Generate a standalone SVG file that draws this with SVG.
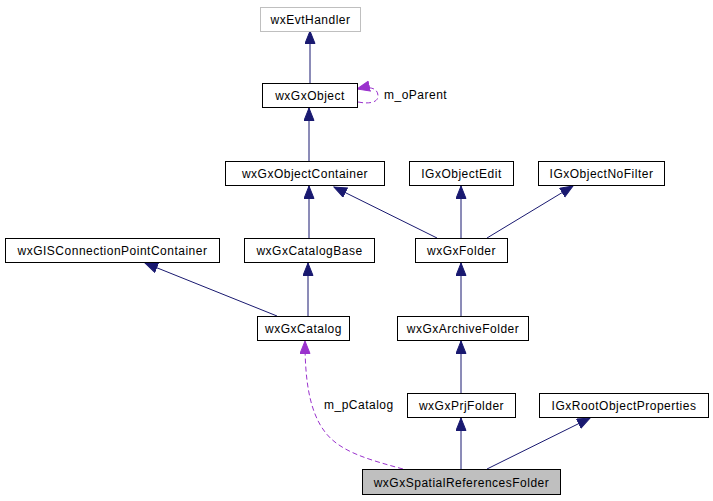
<svg xmlns="http://www.w3.org/2000/svg" width="713" height="501" viewBox="0 0 713 501">
<defs>
<style>
.n rect{fill:#ffffff;stroke:#000000;stroke-width:1}
.n text{font-family:"Liberation Sans",Arial,sans-serif;font-size:12px;letter-spacing:0.5px;fill:#000000;text-anchor:middle}
.g rect{stroke:#bfbfbf}
.h rect{fill:#bfbfbf}
.e{fill:none;stroke:#191970;stroke-width:1}
.u{fill:none;stroke:#9a32cd;stroke-width:1;stroke-dasharray:5,3}
.lbl{font-family:"Liberation Sans",Arial,sans-serif;font-size:12px;letter-spacing:0.5px;fill:#000000}
</style>
<marker id="an" markerWidth="14" markerHeight="12" refX="13" refY="5.5" orient="auto" markerUnits="userSpaceOnUse">
<path d="M0.5,0.5 L13,5.5 L0.5,10.5 z" fill="#191970" stroke="#191970"/>
</marker>
<marker id="ap" markerWidth="14" markerHeight="12" refX="13" refY="5.5" orient="auto" markerUnits="userSpaceOnUse">
<path d="M0.5,0.5 L13,5.5 L0.5,10.5 z" fill="#9a32cd" stroke="#9a32cd"/>
</marker>
</defs>
<rect width="713" height="501" fill="#ffffff"/>
<g id="edges">
<path class="e" d="M310,83 L310,31" marker-end="url(#an)"/>
<path class="e" d="M309,161 L309,108" marker-end="url(#an)"/>
<path class="e" d="M309,238 L309,186" marker-end="url(#an)"/>
<path class="e" d="M437,238 L334,187" marker-end="url(#an)"/>
<path class="e" d="M461,238 L461,186" marker-end="url(#an)"/>
<path class="e" d="M487,238 L573,186" marker-end="url(#an)"/>
<path class="e" d="M277,316 L145,263" marker-end="url(#an)"/>
<path class="e" d="M308,316 L308,263" marker-end="url(#an)"/>
<path class="e" d="M461,316 L461,263" marker-end="url(#an)"/>
<path class="e" d="M461,393 L461,341" marker-end="url(#an)"/>
<path class="e" d="M461,469 L461,418" marker-end="url(#an)"/>
<path class="e" d="M487,469 L590,418" marker-end="url(#an)"/>
<path class="u" d="M403,469 C370,460 340,452 325,432 C308,410 305,375 305,341" marker-end="url(#ap)"/>
<path class="u" d="M358,102 C368,104 378,103 378,96 C378,88 370,86 357,89" marker-end="url(#ap)"/>
<text class="lbl" x="384" y="99">m_oParent</text>
<text class="lbl" x="324" y="409">m_pCatalog</text>
</g>
<g id="wxEvtHandler" class="n g"><rect x="260.5" y="7.5" width="100" height="24"/><text x="310.5" y="24">wxEvtHandler</text></g>
<g id="wxGxObject" class="n"><rect x="262.5" y="83.5" width="95" height="24"/><text x="310" y="100">wxGxObject</text></g>
<g id="wxGxObjectContainer" class="n"><rect x="225.5" y="161.5" width="159" height="24"/><text x="305" y="178">wxGxObjectContainer</text></g>
<g id="IGxObjectEdit" class="n"><rect x="409.5" y="161.5" width="104" height="24"/><text x="461.5" y="178">IGxObjectEdit</text></g>
<g id="IGxObjectNoFilter" class="n"><rect x="538.5" y="161.5" width="126" height="24"/><text x="601.5" y="178">IGxObjectNoFilter</text></g>
<g id="wxGISConnectionPointContainer" class="n"><rect x="5.5" y="238.5" width="214" height="24"/><text x="112.5" y="255">wxGISConnectionPointContainer</text></g>
<g id="wxGxCatalogBase" class="n"><rect x="244.5" y="238.5" width="130" height="24"/><text x="309.5" y="255">wxGxCatalogBase</text></g>
<g id="wxGxFolder" class="n"><rect x="415.5" y="238.5" width="92" height="24"/><text x="461.5" y="255">wxGxFolder</text></g>
<g id="wxGxCatalog" class="n"><rect x="257.5" y="316.5" width="92" height="24"/><text x="303.5" y="333">wxGxCatalog</text></g>
<g id="wxGxArchiveFolder" class="n"><rect x="397.5" y="316.5" width="131" height="24"/><text x="463" y="333">wxGxArchiveFolder</text></g>
<g id="wxGxPrjFolder" class="n"><rect x="407.5" y="393.5" width="108" height="24"/><text x="461.5" y="410">wxGxPrjFolder</text></g>
<g id="IGxRootObjectProperties" class="n"><rect x="539.5" y="393.5" width="169" height="24"/><text x="624" y="410">IGxRootObjectProperties</text></g>
<g id="wxGxSpatialReferencesFolder" class="n h"><rect x="362.5" y="469.5" width="198" height="25"/><text x="461.5" y="487">wxGxSpatialReferencesFolder</text></g>
</svg>
